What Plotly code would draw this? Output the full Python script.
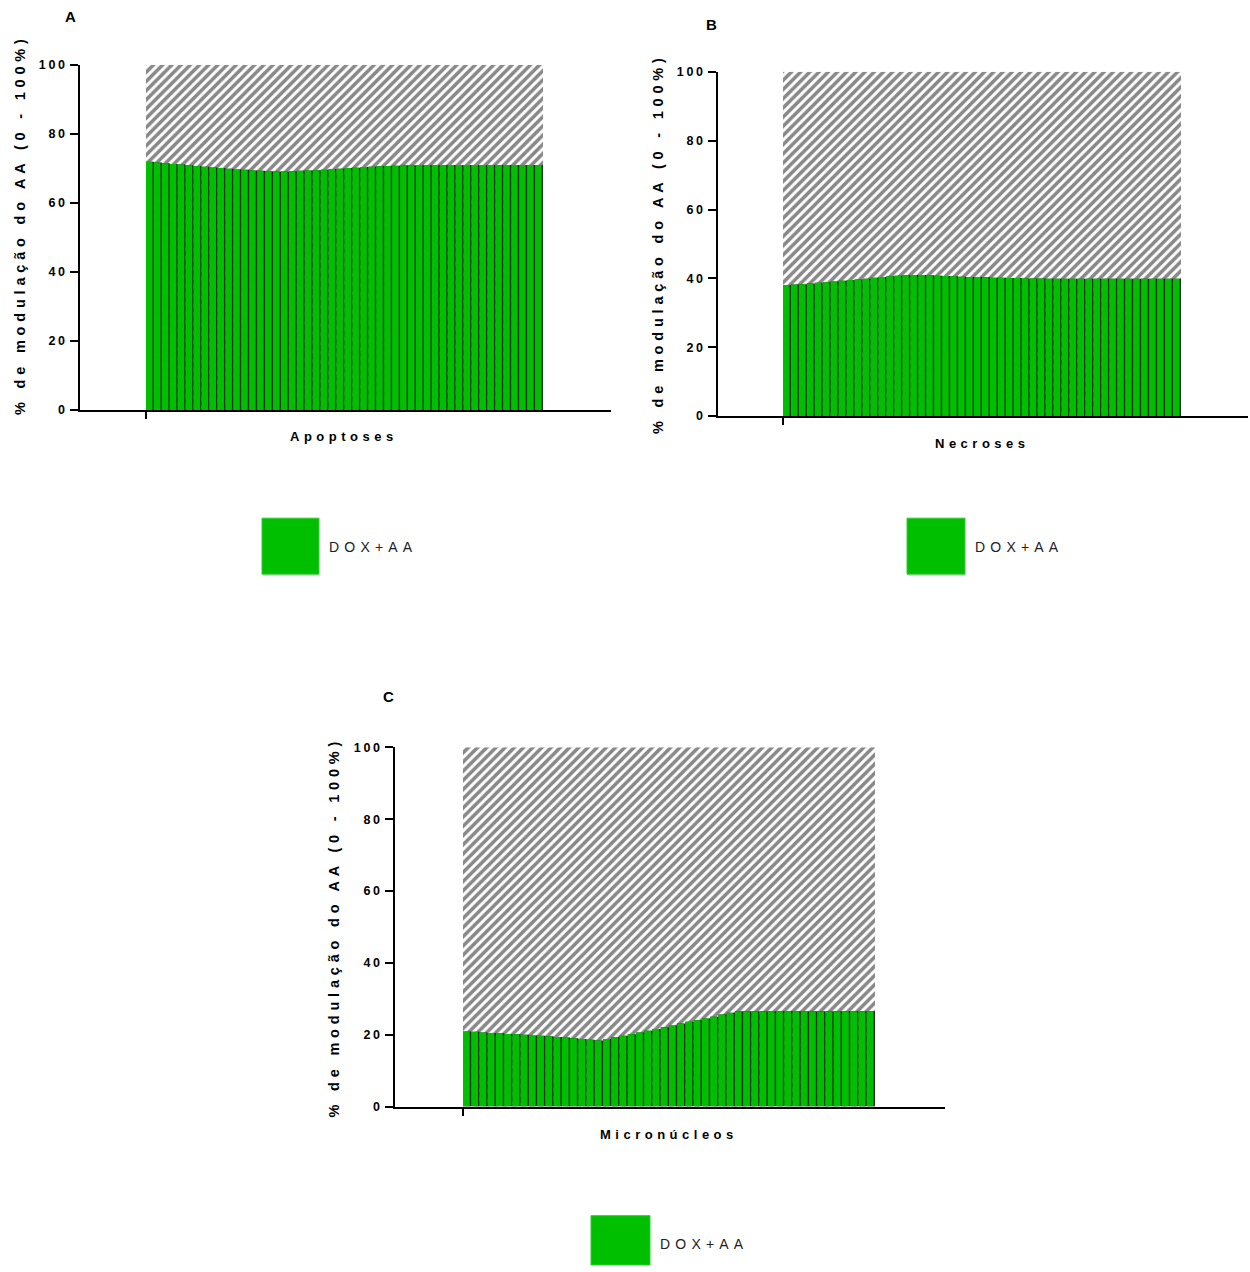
import plotly.graph_objects as go
import numpy as np

# ---------------- data ----------------
panel_letters = ["A", "B", "C"]
categories = ["Apoptoses", "Necroses", "Micronúcleos"]
y_title = "% de modulação do AA (0 - 100%)"
legend_label = "DOX+AA"
y_ticks = [0, 20, 40, 60, 80, 100]
total = 100

apoptoses = [71.9, 71.7, 71.5, 71.3, 71.1, 70.9, 70.7, 70.5, 70.3, 70.1,
             69.9, 69.7, 69.6, 69.4, 69.3, 69.2, 69.1, 69.1, 69.2, 69.3,
             69.4, 69.5, 69.6, 69.8, 69.9, 70.1, 70.2, 70.4, 70.5, 70.6,
             70.7, 70.8, 70.9, 70.9, 71.0, 71.0, 71.0, 71.0, 71.0, 71.0,
             71.0, 71.0, 71.0, 71.0, 71.0, 71.0, 71.0, 71.0, 71.0, 71.0]

necroses = [38.1, 38.2, 38.3, 38.5, 38.7, 38.9, 39.1, 39.3, 39.5, 39.7,
            39.9, 40.2, 40.4, 40.6, 40.8, 40.9, 41.0, 41.0, 40.9, 40.8,
            40.7, 40.6, 40.5, 40.4, 40.4, 40.3, 40.2, 40.2, 40.1, 40.1,
            40.0, 40.0, 40.0, 39.9, 39.9, 39.9, 39.9, 39.9, 39.9, 39.9,
            39.9, 39.9, 39.9, 39.9, 39.9, 39.9, 39.9, 39.9, 39.9, 39.9]

micronucleos = [20.9, 20.8, 20.6, 20.5, 20.4, 20.2, 20.1, 20.0, 19.8, 19.7,
                19.6, 19.4, 19.2, 19.0, 18.8, 18.6, 18.4, 18.8, 19.3, 19.7,
                20.1, 20.6, 21.1, 21.6, 22.1, 22.6, 23.1, 23.6, 24.0, 24.5,
                25.0, 25.6, 26.1, 26.5, 26.5, 26.5, 26.5, 26.5, 26.5, 26.5,
                26.5, 26.5, 26.5, 26.5, 26.5, 26.5, 26.5, 26.5, 26.5, 26.5]

series = [apoptoses, necroses, micronucleos]

# ---------------- layout (pixel geometry of the page) ----------------
W, H = 1250, 1272
Y_SHIFT, Y_SCALE = 7.2, 0.9883   # observed vertical mapping of the photograph
GREEN = "#00BF00"
SEP = "#123212"
FONT = "Liberation Sans, Arial, sans-serif"


def px(x):
    return min(max(x / W, 0.0), 1.0)


def py(y):
    yp = (y - Y_SHIFT) / Y_SCALE
    return min(max(1 - yp / H, 0.0), 1.0)


panels = [
    dict(axis=(80, 611, 65, 410), bars=(146, 543), letter=(70, 17),
         xlabel=(344, 436), ytitle=(20, 225), legend=(262, 518, 319, 574)),
    dict(axis=(718, 1248, 72, 416), bars=(783, 1181), letter=(711, 25),
         xlabel=(982, 443), ytitle=(658, 244), legend=(907, 518, 965, 574)),
    dict(axis=(395, 945, 747, 1106), bars=(463, 875), letter=(389, 696),
         xlabel=(669, 1134), ytitle=(334, 927), legend=(591, 1215, 650, 1272)),
]


def spaced(text, sp):
    return f'<span style="letter-spacing:{sp}px">{text}</span>'


fig = go.Figure()
annotations = []
shapes = []

for k, (vals, cat, letter, p) in enumerate(zip(series, categories, panel_letters, panels)):
    sfx = "" if k == 0 else str(k + 1)
    xa, ya = "x" + sfx, "y" + sfx
    n = len(vals)
    centers = np.arange(n) + 0.5

    # hatched remainder (whole 0-100 block, green drawn on top)
    fig.add_trace(go.Bar(
        x=[n / 2], y=[total], width=[n], xaxis=xa, yaxis=ya,
        marker=dict(color="white",
                    pattern=dict(shape="/", fgcolor="#111111", bgcolor="white",
                                 size=6.5, solidity=0.55),
                    line=dict(width=0)),
        showlegend=False, hoverinfo="skip"))
    # dark separators
    fig.add_trace(go.Bar(
        x=centers, y=vals, width=1.0, offset=-0.5, xaxis=xa, yaxis=ya,
        marker=dict(color=SEP, line=dict(width=0)),
        showlegend=False, hoverinfo="skip"))
    # green bars
    fig.add_trace(go.Bar(
        x=centers, y=vals, width=0.82, offset=-0.5, xaxis=xa, yaxis=ya,
        marker=dict(color=GREEN, line=dict(width=0)),
        name=legend_label, showlegend=False))

    x0, x1, y0, y1 = p["axis"]
    b0, b1 = p["bars"]
    unit = (b1 - b0) / n
    xr = [-(b0 - x0) / unit, n + (x1 - b1) / unit]

    fig.update_layout(**{
        "xaxis" + sfx: dict(
            domain=[px(x0), px(x1)], range=xr, anchor=ya,
            showline=True, linecolor="black", linewidth=2,
            ticks="outside", ticklen=7, tickwidth=2, tickcolor="black",
            tickvals=[0], ticktext=[""], showgrid=False, zeroline=False,
            fixedrange=True),
        "yaxis" + sfx: dict(
            domain=[py(y1), py(y0)], range=[0, total], anchor=xa,
            showline=True, linecolor="black", linewidth=2,
            ticks="outside", ticklen=8, tickwidth=2, tickcolor="black",
            tickvals=y_ticks, ticktext=[spaced(str(t), 2.6) for t in y_ticks],
            tickfont=dict(family=FONT, size=12.5, color="black", weight="bold"),
            showgrid=False, zeroline=False, fixedrange=True),
    })

    lx, ly = p["letter"]
    annotations.append(dict(x=px(lx), y=py(ly), xref="paper", yref="paper",
                            text=letter, showarrow=False,
                            font=dict(family=FONT, size=15, color="black", weight="bold"),
                            xanchor="center", yanchor="middle"))
    cx, cy = p["xlabel"]
    annotations.append(dict(x=px(cx), y=py(cy), xref="paper", yref="paper",
                            text=spaced(cat, 4.5), showarrow=False,
                            font=dict(family=FONT, size=13, color="black", weight="bold"),
                            xanchor="center", yanchor="middle"))
    tx, ty = p["ytitle"]
    annotations.append(dict(x=px(tx), y=py(ty), xref="paper", yref="paper",
                            text=spaced(y_title, 4.8), showarrow=False, textangle=-90,
                            font=dict(family=FONT, size=14.5, color="black", weight="bold"),
                            xanchor="center", yanchor="middle"))
    sx0, sy0, sx1, sy1 = p["legend"]
    shapes.append(dict(type="rect", xref="paper", yref="paper",
                       x0=px(sx0), x1=px(sx1), y0=py(sy1), y1=py(sy0),
                       fillcolor=GREEN, line=dict(color="#33CC33", width=1)))
    annotations.append(dict(x=px(sx1 + 8), y=py((sy0 + min(sy1, 1271)) / 2 + 0.5),
                            xref="paper", yref="paper",
                            text=spaced(legend_label, 5.2), showarrow=False,
                            font=dict(family=FONT, size=14, color="#222222"),
                            xanchor="left", yanchor="middle"))

fig.update_layout(
    width=W, height=H,
    margin=dict(l=0, r=0, t=0, b=0),
    paper_bgcolor="white", plot_bgcolor="white",
    barmode="overlay",
    showlegend=False,
    annotations=annotations,
    shapes=shapes,
    font=dict(family=FONT),
)

fig.write_html(
    "out.html",
    config={"displayModeBar": False},
    post_script="document.body.style.margin='0';document.body.style.overflow='hidden';",
)
